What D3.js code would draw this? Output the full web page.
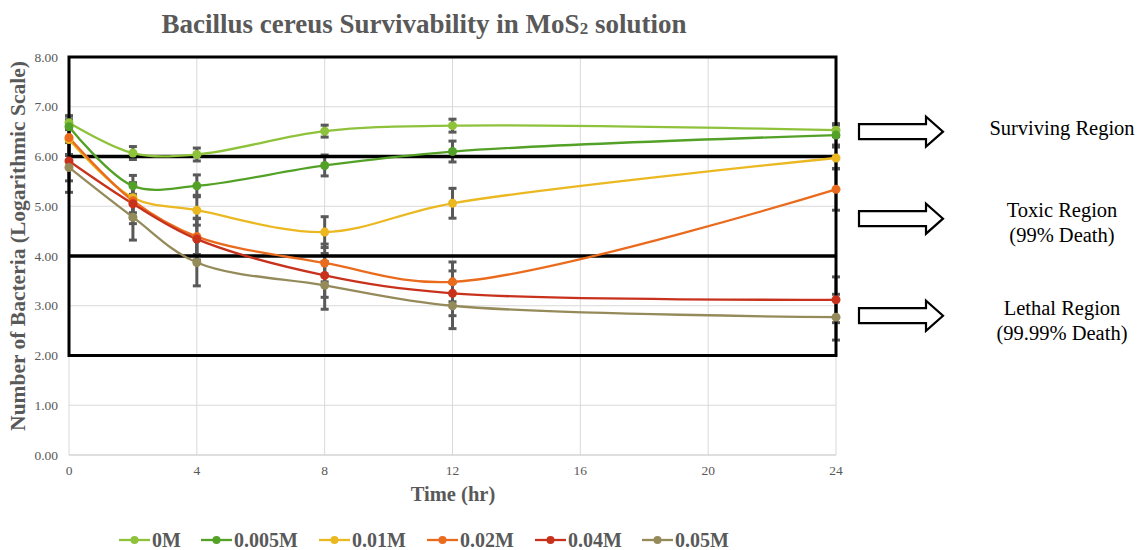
<!DOCTYPE html>
<html>
<head>
<meta charset="utf-8">
<script src="https://cdn.jsdelivr.net/npm/d3@7"></script>
<style>
  body { margin: 0; background: #fff; }
  svg text { font-family: "Liberation Serif", "DejaVu Serif", serif; }
</style>
</head>
<body>
<script>
// data
const times = [0, 2, 4, 8, 12, 24];
const seriesNames = ["0M", "0.005M", "0.01M", "0.02M", "0.04M", "0.05M"];
const colors = ["#8fc23b", "#53a127", "#ebb821", "#ea6b1d", "#c8321d", "#958a5a"];
const v0M    = [6.68, 6.07, 6.04, 6.51, 6.62, 6.53];
const v0005M = [6.60, 5.41, 5.41, 5.82, 6.10, 6.43];
const v001M  = [6.34, 5.17, 4.92, 4.48, 5.06, 5.97];
const v002M  = [6.38, 5.11, 4.39, 3.86, 3.48, 5.34];
const v004M  = [5.91, 5.05, 4.34, 3.61, 3.25, 3.12];
const v005M  = [5.78, 4.78, 3.87, 3.41, 3.00, 2.77];
const e0M    = [0.14, 0.13, 0.13, 0.12, 0.13, 0.13];
const e0005M = [0.21, 0.21, 0.22, 0.21, 0.21, 0.20];
const e001M  = [0.30, 0.30, 0.30, 0.31, 0.30, 0.22];
const e002M  = [0.36, 0.36, 0.36, 0.38, 0.40, 0.42];
const e004M  = [0.40, 0.40, 0.42, 0.44, 0.45, 0.46];
const e005M  = [0.50, 0.46, 0.47, 0.48, 0.46, 0.46];
const xTicks = [0, 4, 8, 12, 16, 20, 24];
const yTicks = [0, 1, 2, 3, 4, 5, 6, 7, 8];
const regionLabels = [["Surviving Region"], ["Toxic Region", "(99% Death)"], ["Lethal Region", "(99.99% Death)"]];

const values = [v0M, v0005M, v001M, v002M, v004M, v005M];
const errors = [e0M, e0005M, e001M, e002M, e004M, e005M];

const width = 1139, height = 550;
const serif = "Liberation Serif, DejaVu Serif, serif";
const svg = d3.select("body").append("svg")
  .attr("width", width)
  .attr("height", height)
  .attr("font-family", serif);

const x = d3.scaleLinear().domain([0, 24]).range([69, 836]);
const y = d3.scaleLinear().domain([0, 8]).range([455, 57]);

// gridlines
svg.append("g").selectAll("line").data(yTicks.slice(1)).enter().append("line")
  .attr("x1", x(0)).attr("x2", x(24))
  .attr("y1", d => y(d)).attr("y2", d => y(d))
  .attr("stroke", "#d9d9d9").attr("stroke-width", 1);
svg.append("g").selectAll("line").data(xTicks).enter().append("line")
  .attr("x1", d => x(d)).attr("x2", d => x(d))
  .attr("y1", y(0)).attr("y2", y(8))
  .attr("stroke", "#d9d9d9").attr("stroke-width", 1);
svg.append("line")
  .attr("x1", x(0)).attr("x2", x(24)).attr("y1", y(0)).attr("y2", y(0))
  .attr("stroke", "#bfbfbf").attr("stroke-width", 1.2);

// tick labels
svg.append("g").selectAll("text").data(yTicks).enter().append("text")
  .attr("x", 58).attr("y", d => y(d) + 4.5)
  .attr("text-anchor", "end").attr("font-size", 13.5).attr("fill", "#595959")
  .text(d => d3.format(".2f")(d));
svg.append("g").selectAll("text").data(xTicks).enter().append("text")
  .attr("x", d => x(d)).attr("y", 475)
  .attr("text-anchor", "middle").attr("font-size", 13.5).attr("fill", "#595959")
  .text(d => d);

// axis titles
svg.append("text")
  .attr("transform", "translate(25,246) rotate(-90)")
  .attr("text-anchor", "middle").attr("font-size", 21.5).attr("font-weight", "bold")
  .attr("fill", "#595959")
  .text("Number of Bacteria (Logarithmic Scale)");
svg.append("text")
  .attr("x", 453).attr("y", 501)
  .attr("text-anchor", "middle").attr("font-size", 20.5).attr("font-weight", "bold")
  .attr("fill", "#595959")
  .text("Time (hr)");

// title
const title = svg.append("text")
  .attr("x", 424).attr("y", 33)
  .attr("text-anchor", "middle").attr("font-size", 27).attr("font-weight", "bold")
  .attr("fill", "#595959");
title.append("tspan").text("Bacillus cereus Survivability in MoS");
title.append("tspan").attr("font-size", 17).attr("dy", 1).text("2");
title.append("tspan").attr("dy", -1).text(" solution");

// error bars
const eb = svg.append("g");
values.forEach((vals, i) => {
  vals.forEach((v, j) => {
    const cx = x(times[j]);
    const lo = y(v - errors[i][j]), hi = y(v + errors[i][j]);
    eb.append("line").attr("x1", cx).attr("x2", cx).attr("y1", lo).attr("y2", hi)
      .attr("stroke", "#595959").attr("stroke-width", 3);
    [lo, hi].forEach(yy => eb.append("line")
      .attr("x1", cx - 4).attr("x2", cx + 4).attr("y1", yy).attr("y2", yy)
      .attr("stroke", "#595959").attr("stroke-width", 3));
  });
});

// region box and boundaries
svg.append("rect")
  .attr("x", x(0)).attr("y", y(8))
  .attr("width", x(24) - x(0)).attr("height", y(2) - y(8))
  .attr("fill", "none").attr("stroke", "#000").attr("stroke-width", 3);
svg.append("g").selectAll("line").data([4, 6]).enter().append("line")
  .attr("x1", x(0)).attr("x2", x(24))
  .attr("y1", d => y(d)).attr("y2", d => y(d))
  .attr("stroke", "#000").attr("stroke-width", 3.5);

// series lines
const line = d3.line()
  .x((d, j) => x(times[j]))
  .y(d => y(d))
  .curve(d3.curveCatmullRom.alpha(0.5));

values.forEach((vals, i) => {
  svg.append("path").datum(vals)
    .attr("d", line)
    .attr("fill", "none").attr("stroke", colors[i]).attr("stroke-width", 2.3);
});
values.forEach((vals, i) => {
  svg.append("g").selectAll("circle").data(vals).enter().append("circle")
    .attr("cx", (d, j) => x(times[j])).attr("cy", d => y(d))
    .attr("r", 4.5).attr("fill", colors[i]);
});

// region arrows and labels
const arrowY = [y(6.5), y(4.75), y(2.8)];
const labelY = [[135], [217, 242], [315, 340]];
const arrow = (cy) => {
  const x0 = 859, xh = 926, x1 = 943;
  return `M${x0},${cy - 7.5}L${xh},${cy - 7.5}L${xh},${cy - 15}L${x1},${cy}L${xh},${cy + 15}L${xh},${cy + 7.5}L${x0},${cy + 7.5}Z`;
};
arrowY.forEach((cy, i) => {
  svg.append("path").attr("d", arrow(cy))
    .attr("fill", "#fff").attr("stroke", "#000").attr("stroke-width", 2.2);
  regionLabels[i].forEach((t, k) => {
    svg.append("text")
      .attr("x", 1062).attr("y", labelY[i][k])
      .attr("text-anchor", "middle").attr("font-size", 20.5).attr("fill", "#000")
      .text(t);
  });
});

// legend
const legendX = [119, 201, 319, 427, 535, 642];
const lg = svg.append("g").selectAll("g").data(seriesNames).enter().append("g")
  .attr("transform", (d, i) => `translate(${legendX[i]},540)`);
lg.append("line").attr("x1", 0).attr("x2", 31).attr("y1", 0).attr("y2", 0)
  .attr("stroke", (d, i) => colors[i]).attr("stroke-width", 2.3);
lg.append("circle").attr("cx", 15.5).attr("cy", 0).attr("r", 4)
  .attr("fill", (d, i) => colors[i]);
lg.append("text").attr("x", 33).attr("y", 7)
  .attr("font-size", 20).attr("font-weight", "bold").attr("fill", "#595959")
  .text(d => d);
</script>
</body>
</html>
